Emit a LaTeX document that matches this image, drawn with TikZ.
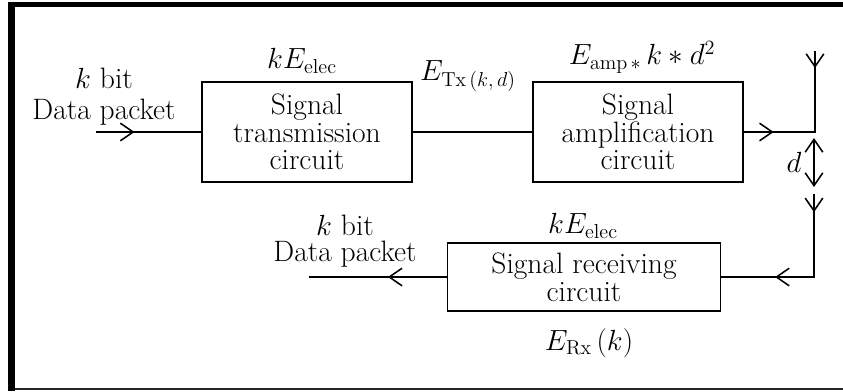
\documentclass[tikz,border=0pt]{standalone}
\usetikzlibrary{arrows.meta, positioning, decorations.markings}

\tikzset{
  barb/.tip={Straight Barb[length=3.2mm, width=4.4mm, line width=1.1pt]},
  block/.style={draw, line width=1.1pt, align=center, inner sep=0pt,
                font=\fontsize{21}{19.5}\selectfont},
  lbl/.style={align=center, inner sep=0pt},
  wire/.style={line width=1.1pt, line cap=rect},
  midtip/.style={postaction={decorate},
                 decoration={markings, mark=at position #1 with {\arrow{barb}}}},
}

\begin{document}
\begin{tikzpicture}[x=0.025cm, y=-0.025cm, font=\fontsize{21}{22}\selectfont]
  \useasboundingbox (0,0) rectangle (843,391);
  % frame
  \fill (8,2) rectangle (843,7);
  \fill (8,2) rectangle (15,391);
  \fill[black!85] (15,387.5) rectangle (843,389.5);

  % blocks
  \node[block, minimum width=5.25cm, minimum height=2.5cm] (tx) at (307,132)
    {Signal\\transmission\\circuit};
  \node[block, minimum width=5.25cm, minimum height=2.5cm] (amp) at (638,132)
    {Signal\\amplification\\circuit};
  \node[block, minimum width=6.825cm, minimum height=1.7cm,
        font=\fontsize{21}{20}\selectfont] (rx) at (584,277)
    {Signal receiving\\circuit};

  % free ends and corners
  \coordinate (in) at (97,132);
  \coordinate (c1) at (815,132);
  \coordinate (a1) at (815,52);
  \coordinate (d1) at (814,138);
  \coordinate (d2) at (814,187);
  \coordinate (a2) at (814,195);
  \coordinate (c2) at (814,277);
  \coordinate (out) at (310,277);

  % connectors
  \draw[wire, midtip=0.36] (in) -- (tx.west);
  \draw[wire] (tx.east) -- (amp.west);
  \draw[wire, midtip=0.42] (amp.east) -- (c1);
  \draw[wire, midtip=0.2] (a1) -- (c1);
  \draw[line width=1.1pt, barb-barb] (d1) -- node[left=5pt] (dist) {$d$} (d2);
  \draw[wire, midtip=0.21] (a2) -- (c2);
  \draw[wire, midtip=0.42] (c2) -- (rx.east);
  \draw[wire, midtip=0.43] (rx.west) -- (out);

  % labels
  \node[lbl] (inpkt) at (104,97) {$k$ bit\\Data packet};
  \node[lbl, font=\fontsize{21}{19}\selectfont] (outpkt) at (345,241) {$k$ bit\\Data packet};
  \node[lbl] (txcost) at (302,61) {$kE_{\mathrm{elec}}$};
  \node[lbl] (txout) at (468,76) {$E_{\mathrm{Tx}\,(k,\,d)}$};
  \node[lbl] (ampcost) at (642,57) {$E_{\mathrm{amp}\,*}\,k * d^{2}$};
  \node[lbl] (rxcost) at (583,226) {$kE_{\mathrm{elec}}$};
  \node[lbl] (rxin) at (589,343) {$E_{\mathrm{Rx}}\,(k)$};
\end{tikzpicture}
\end{document}
